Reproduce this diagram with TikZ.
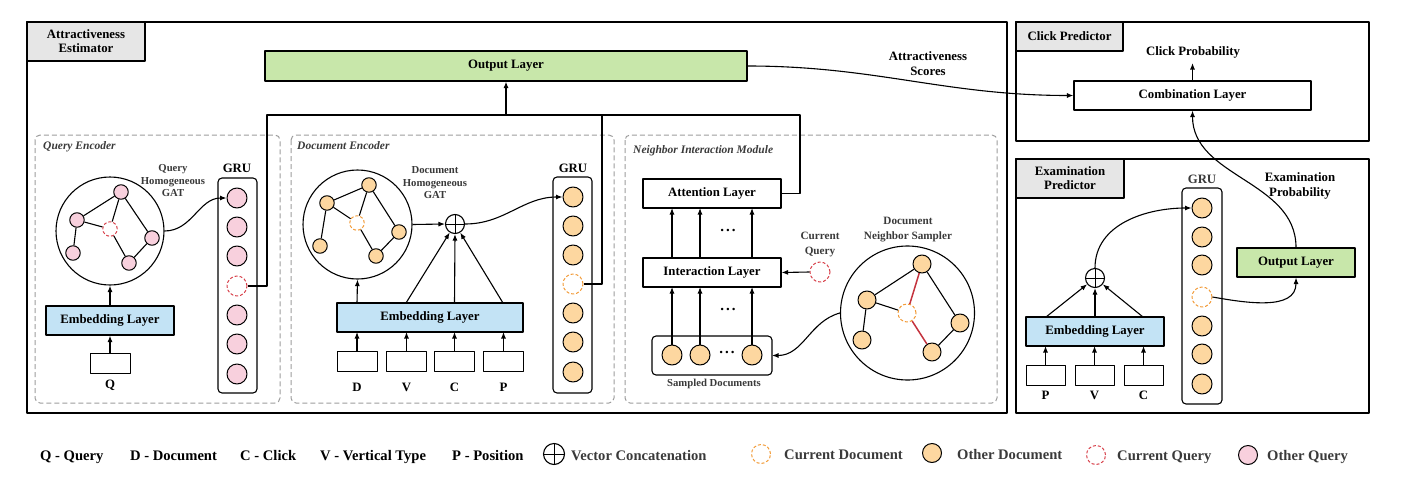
\documentclass[tikz,border=0pt]{standalone}
\usepackage{fontspec}
\setmainfont{Liberation Serif}
\usetikzlibrary{arrows.meta}
\definecolor{qfill}{HTML}{F8D0DD}
\definecolor{dfill}{HTML}{FDD7A0}
\definecolor{curdoc}{HTML}{F29B38}
\definecolor{curq}{HTML}{D8404A}
\definecolor{embblue}{HTML}{C3E3F5}
\definecolor{outgreen}{HTML}{C8E7AA}
\definecolor{lblgray}{HTML}{E6E6E6}
\definecolor{dashgray}{HTML}{9C9C9C}
\definecolor{redge}{HTML}{C4333E}
\definecolor{txtgray}{HTML}{3A3A3A}
\newcommand{\myfmain}{\fontsize{12.8}{15}\selectfont\bfseries}
\newcommand{\myfsmall}{\fontsize{10.7}{12.5}\selectfont\bfseries}
\newcommand{\myfmid}{\fontsize{11.2}{15}\selectfont\bfseries}
\newcommand{\myflegend}{\fontsize{14.6}{16}\selectfont\bfseries}
\newcommand{\mydots}{{\fontsize{15}{15}\selectfont\bfseries .\kern2pt.\kern2pt.}}
\begin{document}
\begin{tikzpicture}[x=1pt,y=-1pt,line join=round,
  every node/.style={inner sep=0pt},
  frame/.style={draw,line width=1.3pt},
  tag/.style={draw,line width=1.3pt,fill=lblgray,font=\myfmain,align=center},
  layer/.style={draw,line width=1.1pt,fill=white,font=\myfmain},
  inbox/.style={draw,line width=1pt,fill=white,minimum width=40pt,minimum height=20pt},
  dbox/.style={draw=dashgray,line width=1pt,dash pattern=on 5pt off 3pt,rounded corners=5pt},
  gru/.style={draw,line width=1.1pt,rounded corners=4pt},
  oq/.style={circle,draw,line width=1pt,fill=qfill,minimum size=#1},
  oq/.default=20pt,
  od/.style={circle,draw,line width=1pt,fill=dfill,minimum size=#1},
  od/.default=20pt,
  cq/.style={circle,draw=curq,line width=1pt,dash pattern=on 3pt off 2pt,fill=white,minimum size=#1},
  cq/.default=20pt,
  cd/.style={circle,draw=curdoc,line width=1pt,dash pattern=on 3pt off 2pt,fill=white,minimum size=#1},
  cd/.default=20pt,
  gcirc/.style={circle,draw,line width=1.1pt,minimum size=#1},
  oplus/.style={circle,draw,line width=1.1pt,minimum size=19pt,fill=white,
    path picture={\draw[line width=1pt] (path picture bounding box.north) -- (path picture bounding box.south)
      (path picture bounding box.west) -- (path picture bounding box.east);}},
  edge/.style={line width=1.1pt},
  arr/.style={line width=1.1pt,-{Latex[length=6.5pt,width=5pt]}},
  ital/.style={font=\fontsize{11.5}{13}\selectfont\bfseries\itshape,text=txtgray,anchor=west},
  small/.style={font=\myfsmall,text=txtgray,align=center},
  mid/.style={font=\myfmid,text=txtgray,align=center},
  leg/.style={font=\myflegend,anchor=base west},
  legg/.style={font=\myflegend,anchor=base west,text=txtgray}
]
\useasboundingbox (0,0) rectangle (1402,482);

% ===== outer frames =====
\draw[frame] (27,22) rectangle (1007,413);
\node[tag,minimum width=118pt,minimum height=39pt] (ae) at (86,41.5) {Attractiveness\\[-1pt]Estimator};
\draw[frame] (1016,22) rectangle (1369,141);
\node[tag,minimum width=107pt,minimum height=29pt] (cp) at (1069.5,36.5) {Click Predictor};
\draw[frame] (1016,159) rectangle (1369,413);
\node[tag,minimum width=108pt,minimum height=39pt] (ep) at (1070,178.5) {Examination\\[-1pt]Predictor};

% ===== output layer =====
\node[layer,fill=outgreen,minimum width=482pt,minimum height=30pt] (out) at (506,66) {Output Layer};

% ===== query encoder =====
\draw[dbox] (35,135) rectangle (280,403);
\node[ital] (qelab) at (43,147) {Query Encoder};
\node[gcirc=108pt] (qg) at (110,231) {};
\node[oq=14.5pt] (qt) at (121,192) {};
\node[oq=14.5pt] (ql) at (77,220) {};
\node[cq=14.5pt] (qc) at (110,229) {};
\node[oq=14.5pt] (qr) at (152,238) {};
\node[oq=14.5pt] (qbl) at (73,253) {};
\node[oq=14.5pt] (qb) at (129,263) {};
\draw[edge] (ql) -- (qt) (qt) -- (qc) (qt) -- (qr) (ql) -- (qc) (ql) -- (qbl) (qc) -- (qb) (qb) -- (qr);
\node[small] (qgl) at (173,181) {Query\\Homogeneous\\GAT};
\node[font=\myfmain] (qgrul) at (237,168) {GRU};
\draw[gru] (218,178) rectangle (257,393);
\foreach \i/\y in {1/198,2/227,3/256,5/315,6/344,7/374} \node[oq] (q\i) at (237,\y) {};
\node[cq] (q4) at (237,286) {};
\node[layer,fill=embblue,minimum width=128pt,minimum height=29pt] (qemb) at (110,320.5) {Embedding Layer};
\node[inbox] (qin) at (110,363) {};
\node[font=\myfmain] (qinl) at (110,385) {Q};
\draw[arr] (qin.north) -- (qemb.south);
\draw[arr] (qemb.north) -- (qg.south);
\draw[arr] (qg.east) to[out=0,in=180] (q1.west);

% ===== document encoder =====
\draw[dbox] (291,135) rectangle (614,403);
\node[ital] (delab) at (297,146) {Document Encoder};
\node[gcirc=109pt] (dg) at (357.5,224.5) {};
\node[od=14.5pt] (dt) at (369,185) {};
\node[od=14.5pt] (dl) at (327,203) {};
\node[cd=14.5pt] (dc) at (357,223) {};
\node[od=14.5pt] (dr) at (399,232) {};
\node[od=14.5pt] (dbl) at (320,246) {};
\node[od=14.5pt] (db) at (376,256) {};
\draw[edge] (dl) -- (dt) (dt) -- (dc) (dt) -- (dr) (dl) -- (dc) (dl) -- (dbl) (dc) -- (db) (db) -- (dr);
\node[small] (dgl) at (435,183) {Document\\Homogeneous\\GAT};
\node[oplus] (dplus) at (455,224) {};
\node[font=\myfmain] (dgrul) at (573,168) {GRU};
\draw[gru] (553,177) rectangle (592,393);
\foreach \i/\y in {1/197,2/226,3/255,5/313,6/342,7/372} \node[od] (d\i) at (573,\y) {};
\node[cd] (d4) at (573,284) {};
\node[layer,fill=embblue,minimum width=186pt,minimum height=29pt] (demb) at (430,317.5) {Embedding Layer};
\foreach \n/\x/\t in {dD/357/D,dV/406.5/V,dC/454.5/C,dP/503.5/P}{
  \node[inbox] (\n) at (\x,361.5) {};
  \node[font=\myfmain] (\n l) at (\x,387) {\t};
  \draw[arr] (\n.north) -- (\x,332);
}
\draw[arr] (357,303) -- (dg.south);
\draw[arr] (406,303) -- (dplus);
\draw[arr] (454.5,303) -- (dplus.south);
\draw[arr] (503,303) -- (dplus);
\draw[arr] (dg.east) -- (dplus.west);
\draw[arr] (dplus.east) to[out=0,in=180] (d1.west);

% ===== neighbor interaction module =====
\draw[dbox] (625,135) rectangle (997,403);
\node[ital] (nilab) at (633,151) {Neighbor Interaction Module};
\node[layer,minimum width=138pt,minimum height=29pt] (att) at (712,193.5) {Attention Layer};
\node[layer,minimum width=138pt,minimum height=29pt] (inter) at (712,272.5) {Interaction Layer};
\draw[line width=1.1pt,rounded corners=4pt] (652,336) rectangle (772,375);
\coordinate (sbox) at (772,355.5);
\foreach \i/\x in {1/672,2/700,3/752}{
  \node[od] (s\i) at (\x,355) {};
  \draw[arr] (s\i.north) -- (\x,287);
  \draw[arr] (\x,258) -- (\x,208);
}
\node (dots1) at (728,230) {\mydots};
\node (dots2) at (728,309) {\mydots};
\node (dots3) at (727,352) {\mydots};
\node[small] (sdl) at (714,384) {Sampled Documents};
\node[cq] (curq) at (820,272) {};
\node[mid] (curql) at (820,244.5) {Current\\Query};
\draw[arr] (curq.west) -- (inter.east);
\node[gcirc=134pt] (sg) at (907.5,313) {};
\node[mid] (sgl) at (908,229.5) {Document\\Neighbor Sampler};
\node[od=18pt] (st) at (922,264) {};
\node[od=18pt] (sl) at (867,300) {};
\node[cd=18pt] (sc) at (907,313) {};
\node[od=18pt] (sr) at (960,323) {};
\node[od=18pt] (sbl) at (862,340) {};
\node[od=18pt] (sb) at (932,352) {};
\draw[edge] (sl) -- (st) (st) -- (sr) (sl) -- (sc) (sl) -- (sbl) (sb) -- (sr);
\draw[edge,draw=redge,line width=1.5pt] (st) -- (sc) (sc) -- (sb);
\draw[arr] (sg.west) to[out=195,in=0] (sbox);

% ===== top bus =====
\coordinate (bus) at (506,115);
\draw[edge] (q4.east) -| (267,115) -- (800,115) |- (att.east);
\draw[edge] (d4.east) -| (602,115);
\draw[arr] (bus) -- (out.south);

% ===== click predictor =====
\node[layer,minimum width=237pt,minimum height=29pt] (comb) at (1192.5,95.5) {Combination Layer};
\node[font=\myfmain] (cprob) at (1193,52) {Click Probability};
\draw[arr] (comb.north) -- (1192.5,63);
\node[font=\myfmain,align=center] (ascore) at (928,64) {Attractiveness\\[0pt]Scores};
\draw[arr] (out.east) to[out=0,in=180] (comb.west);

% ===== examination predictor =====
\node[font=\myfmain,text=txtgray] (egrul) at (1202,179) {GRU};
\draw[gru] (1182,188) rectangle (1222,404);
\foreach \i/\y in {1/208,2/237,3/265,5/326,6/354,7/384} \node[od] (e\i) at (1202,\y) {};
\node[cd] (e4) at (1202,297) {};
\node[layer,fill=embblue,minimum width=138pt,minimum height=29pt] (eemb) at (1095,331.5) {Embedding Layer};
\foreach \n/\x/\t in {eP/1045.5/P,eV/1094.5/V,eC/1143.5/C}{
  \node[inbox,minimum width=39pt] (\n) at (\x,375) {};
  \node[font=\myfmain] (\n l) at (\x,395) {\t};
  \draw[arr] (\n.north) -- (\x,346);
}
\node[oplus] (eplus) at (1095,278) {};
\draw[arr] (1046,317) -- (eplus);
\draw[arr] (1095,317) -- (eplus.south);
\draw[arr] (1143,317) -- (eplus);
\draw[arr] (eplus.north) to[out=90,in=180] (e1.west);
\node[layer,fill=outgreen,minimum width=118pt,minimum height=29pt] (eout) at (1296,262.5) {Output Layer};
\draw[arr] (e4.east) to[out=-10,in=-90] (eout.south);
\node[font=\myfmain,align=center] (eprob) at (1300,186) {Examination\\[0pt]Probability};
\draw[arr] (eout.north) to[out=90,in=-90] (comb.south);

% ===== legend =====
\node[leg] (l1) at (40,460) {Q - Query};
\node[leg] (l2) at (130,460) {D - Document};
\node[leg] (l3) at (240,460) {C - Click};
\node[leg] (l4) at (320,460) {V - Vertical Type};
\node[leg] (l5) at (452,460) {P - Position};
\node[oplus,minimum size=21pt] (lplus) at (554,454) {};
\node[legg] (l6) at (571,460) {Vector Concatenation};
\node[cd=19pt] (lcd) at (761,454) {};
\node[legg] (l7) at (784,459) {Current Document};
\node[od=19pt] (lod) at (932,453) {};
\node[legg] (l8) at (957,459) {Other Document};
\node[cq=19pt] (lcq) at (1096,455) {};
\node[legg] (l9) at (1117,460) {Current Query};
\node[oq=19pt] (loq) at (1248,455) {};
\node[legg] (l10) at (1267,460) {Other Query};
\end{tikzpicture}
\end{document}
